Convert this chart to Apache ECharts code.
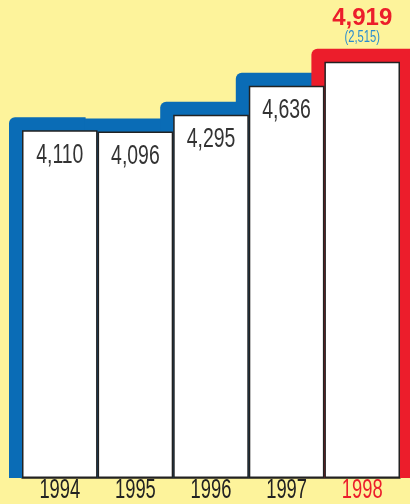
<!DOCTYPE html>
<html><head><meta charset="utf-8">
<script src="https://cdn.jsdelivr.net/npm/echarts@6/dist/echarts.min.js"></script>
<style>html,body{margin:0;padding:0;background:#fdf39b;}#c{width:410px;height:504px;}</style>
</head><body><div id="c"></div>
<script>
const years = ['1994','1995','1996','1997','1998'];
const values = [4110, 4096, 4295, 4636, 4919];
const highlightNote = '(2,515)';

const BLUE = '#0a6cb6', RED = '#ec1d2b', YELLOW = '#fdf39b';
const last = years.length - 1;
const fmt = v => v.toLocaleString('en-US');
const FONT = 'Liberation Sans, Arial, sans-serif';

function sText(x, y, text, size, color, sx, weight) {
  return {
    type: 'group', x: x, y: y, scaleX: sx,
    children: [{
      type: 'text', x: 0, y: 0,
      style: {text: text, fontFamily: FONT, fontSize: size, fontWeight: weight || 'normal',
              fill: color, align: 'center', verticalAlign: 'middle'}
    }]
  };
}

const chart = echarts.init(document.getElementById('c'));
chart.setOption({
  backgroundColor: YELLOW,
  animation: false,
  grid: {left: 22, right: 10, top: 55, bottom: 26},
  xAxis: {
    type: 'category', data: years,
    axisLine: {show: true, lineStyle: {color: '#222', width: 1.5}},
    axisTick: {show: false},
    axisLabel: {show: false}
  },
  yAxis: {type: 'value', min: 0, max: 5000, show: false, splitLine: {show: false}},
  series: [
    {
      type: 'custom', z: 1,
      data: values.map((v, i) => [i, v]),
      renderItem: (params, api) => {
        const i = api.value(0);
        const top = api.coord([i, api.value(1)]);
        const base = api.coord([i, 0]);
        const bw = api.size([1, 0])[0];
        const off = 13;
        const isLast = i === last;
        const rising = i === 0 || values[i] >= values[i - 1];
        return {
          type: 'rect',
          shape: {x: top[0] - bw / 2 - off, y: top[1] - off,
                  width: bw + 1 + (isLast ? off + 12 : 0), height: base[1] - top[1] + off,
                  r: [rising ? 6 : 0, 0, 0, 0]},
          style: {fill: isLast ? RED : BLUE}
        };
      }
    },
    {
      type: 'bar', z: 3, barWidth: '100%', barCategoryGap: 0,
      data: values,
      itemStyle: {color: '#fff', borderColor: '#222', borderWidth: 1.5}
    },
    {
      type: 'custom', z: 5,
      data: values.map((v, i) => [i, v]),
      renderItem: (params, api) => {
        const i = api.value(0);
        const v = api.value(1);
        const top = api.coord([i, v]);
        const base = api.coord([i, 0]);
        const kids = [];
        const isLast = i === last;
        kids.push(sText(top[0], base[1] + 13, years[i], 27, isLast ? RED : '#222', 0.68));
        if (isLast) {
          kids.push(sText(top[0], top[1] - 43, fmt(v), 24, RED, 1, 'bold'));
          kids.push(sText(top[0], top[1] - 24, highlightNote, 16, '#2b8dcf', 0.7));
        } else {
          kids.push(sText(top[0], top[1] + 25, fmt(v), 27, '#333', 0.72));
        }
        return {type: 'group', children: kids};
      }
    }
  ]
});
</script></body></html>
